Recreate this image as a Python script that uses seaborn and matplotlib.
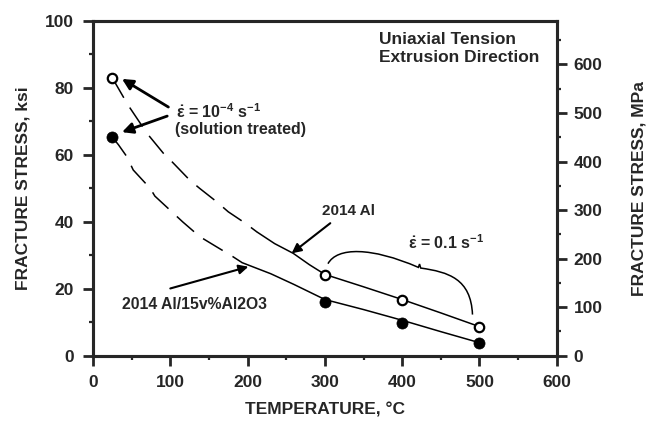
import numpy as np
import pandas as pd
import matplotlib
matplotlib.use("Agg")
import matplotlib.pyplot as plt
from matplotlib.path import Path
from matplotlib.patches import PathPatch
import seaborn as sns

# ---------------- data ----------------
temp_pts = [25, 300, 400, 500]
al_pts = [83, 24, 16.8, 8.7]            # 2014 Al (open)
mmc_pts = [65.3, 16.1, 9.7, 3.9]        # 2014 Al/15v%Al2O3 (filled)

# curves: dashed part and solid part
al_dash_x = [25, 45, 70, 91, 102, 125, 138, 160, 175, 197, 212]
al_dash_y = [83, 75, 66.4, 60.5, 58, 52.5, 50, 46, 43, 39.6, 37]
al_solid_x = [212, 235, 259, 280, 300, 350, 400, 450, 500]
al_solid_y = [37, 33.5, 30.6, 27.2, 24.3, 20.6, 16.8, 12.8, 8.7]

mmc_dash_x = [25, 33, 44, 52, 74, 80, 102, 116, 138, 158, 181, 193]
mmc_dash_y = [65.3, 63, 59.4, 55.5, 50, 47.7, 43, 40, 35.6, 32.8, 29.6, 27.8]
mmc_solid_x = [193, 230, 260, 300, 350, 400, 450, 500]
mmc_solid_y = [27.8, 24.5, 21.3, 16.8, 13.8, 10.6, 7.2, 3.9]

xticks = [0, 100, 200, 300, 400, 500, 600]
yticks = [0, 20, 40, 60, 80, 100]
mpa_ticks = [0, 100, 200, 300, 400, 500, 600]
KSI_TO_MPA = 6.895

# ---------------- style ----------------
sns.set_style("ticks")
plt.rcParams['font.family'] = ['Liberation Sans', 'DejaVu Sans']
plt.rcParams['font.weight'] = 'bold'
plt.rcParams['mathtext.fontset'] = 'custom'
plt.rcParams['mathtext.rm'] = 'Liberation Sans:bold'
plt.rcParams['mathtext.it'] = 'Liberation Sans:bold'
plt.rcParams['mathtext.bf'] = 'Liberation Sans:bold'
plt.rcParams['mathtext.default'] = 'rm'

fig = plt.figure(figsize=(6.46, 4.22), dpi=100)
ax = fig.add_axes([0.144, 0.157, 0.7178, 0.7932])

lw = 1.1
dash = (0, (15, 7.5))
def seg(x, y, ls):
    df = pd.DataFrame({'x': x, 'y': y})
    sns.lineplot(data=df, x='x', y='y', ax=ax, color='black', lw=lw,
                 linestyle=ls, sort=False, estimator=None)

seg(al_dash_x, al_dash_y, dash)
seg(al_solid_x, al_solid_y, '-')
seg(mmc_dash_x, mmc_dash_y, dash)
seg(mmc_solid_x, mmc_solid_y, '-')

sns.scatterplot(x=temp_pts, y=al_pts, ax=ax, marker='o', s=46,
                facecolor='white', edgecolor='black', linewidth=1.6, zorder=5)
sns.scatterplot(x=temp_pts, y=mmc_pts, ax=ax, marker='o', s=64,
                color='black', edgecolor='black', linewidth=0.5, zorder=5)

ax.set_xlim(0, 600)
ax.set_ylim(0, 100)
ax.set_xticks(xticks)
ax.set_yticks(yticks)
ax.set_xticks(np.arange(50, 600, 100), minor=True)
ax.set_yticks(np.arange(10, 100, 20), minor=True)
for s in ax.spines.values():
    s.set_visible(True)
    s.set_linewidth(2.2)
ax.tick_params(which='major', length=7, width=2, labelsize=12.5, pad=7, direction='out')
ax.tick_params(which='minor', length=3, width=1.6, direction='out')
ax.tick_params(axis='y', which='both', right=False)
ax.tick_params(axis='x', which='both', top=False)
for t in ax.get_xticklabels() + ax.get_yticklabels():
    t.set_fontweight('bold')

ax.set_xlabel('TEMPERATURE, °C', fontsize=12.5, fontweight='bold', labelpad=9)
ax.set_ylabel('FRACTURE STRESS, ksi', fontsize=12.5, fontweight='bold', labelpad=10)

ax2 = ax.twinx()
ax2.set_ylim(0, 100 * KSI_TO_MPA)
ax2.set_yticks(mpa_ticks)
ax2.set_yticks(np.arange(50, 700, 100), minor=True)
ax2.tick_params(which='major', length=7, width=2, labelsize=12.5, pad=5, direction='out')
ax2.tick_params(which='minor', length=3, width=1.6, direction='out')
for s in ax2.spines.values():
    s.set_linewidth(2.2)
for t in ax2.get_yticklabels():
    t.set_fontweight('bold')
ax2.set_ylabel('FRACTURE STRESS, MPa', fontsize=12.5, fontweight='bold', labelpad=21)

# ---------------- annotations ----------------
ax.text(0.616, 0.966, 'Uniaxial Tension\nExtrusion Direction', transform=ax.transAxes,
        ha='left', va='top', fontsize=12.5, fontweight='bold', linespacing=1.2)

ax.text(108, 72.8, r'$\dot{\varepsilon}$ = 10$^{-4}$ s$^{-1}$', fontsize=11.5,
        fontweight='bold', ha='left', va='center')
ax.text(106, 67.6, '(solution treated)', fontsize=11.5, fontweight='bold',
        ha='left', va='center')
arr = dict(arrowstyle='-|>', color='black', lw=2.0, mutation_scale=16, shrinkA=0, shrinkB=0)
ax.annotate('', xy=(37.5, 82.7), xytext=(97.5, 74.3), arrowprops=arr)
ax.annotate('', xy=(37.5, 66.8), xytext=(96, 71.6), arrowprops=arr)

ax.text(296, 43.3, '2014 Al', fontsize=11, fontweight='bold', ha='left', va='center')
ax.annotate('', xy=(257, 30.6), xytext=(307, 39.6),
            arrowprops=dict(arrowstyle='-|>', color='black', lw=1.5, mutation_scale=14,
                            shrinkA=0, shrinkB=0))
ax.text(37, 15.4, '2014 Al/15v%Al2O3', fontsize=11.3, fontweight='bold', ha='left', va='center')
ax.annotate('', xy=(201, 26.6), xytext=(100, 20.1),
            arrowprops=dict(arrowstyle='-|>', color='black', lw=1.5, mutation_scale=14,
                            shrinkA=0, shrinkB=0))

ax.text(407, 33.7, r'$\dot{\varepsilon}$ = 0.1 s$^{-1}$', fontsize=11.5, fontweight='bold',
        ha='left', va='center')
verts = [(304, 27.5), (316, 32.5), (360, 32.5), (421, 26.4),
         (422.5, 27.4),
         (424, 26.2), (460, 25), (489, 23), (491, 12.3)]
codes = [Path.MOVETO, Path.CURVE4, Path.CURVE4, Path.CURVE4,
         Path.LINETO,
         Path.LINETO, Path.CURVE4, Path.CURVE4, Path.CURVE4]
ax.add_patch(PathPatch(Path(verts, codes), fill=False, lw=1.1, color='black'))

fig.savefig('out.png', dpi=100)
